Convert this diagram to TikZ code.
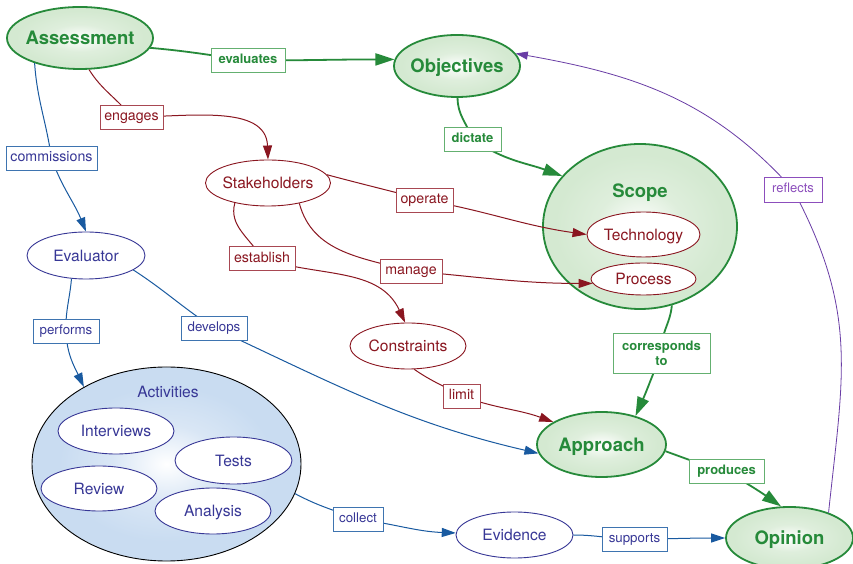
\documentclass[tikz,border=0pt]{standalone}
\usepackage{fontspec}
\setmainfont{TeX Gyre Heros}
\usetikzlibrary{shapes.geometric,arrows.meta}

\definecolor{cgreen}{RGB}{38,138,58}
\definecolor{cgreenlbl}{RGB}{100,176,112}
\definecolor{cgreenfill}{RGB}{212,233,209}
\definecolor{cred}{RGB}{138,22,32}
\definecolor{credlbl}{RGB}{168,72,82}
\definecolor{cindigo}{RGB}{55,55,150}
\definecolor{cblue}{RGB}{25,90,160}
\definecolor{cbluelbl}{RGB}{62,116,176}
\definecolor{cpurple}{RGB}{105,60,165}
\definecolor{cpurplelbl}{RGB}{140,78,188}
\definecolor{cactfill}{RGB}{201,220,241}

% soft white glow in the middle of filled ellipses
\pgfdeclareradialshading{greenglow}{\pgfpoint{0bp}{0bp}}{%
  color(0bp)=(white); color(11bp)=(cgreenfill!75!white);
  color(22bp)=(cgreenfill); color(50bp)=(cgreenfill)}
\pgfdeclareradialshading{blueglow}{\pgfpoint{0bp}{0bp}}{%
  color(0bp)=(white); color(10bp)=(cactfill!70!white);
  color(20bp)=(cactfill); color(50bp)=(cactfill)}

\pgfdeclarelayer{fg}
\pgfsetlayers{main,fg}

\tikzset{
  keytext/.style={font=\fontsize{18.5}{20}\selectfont\bfseries, text=cgreen,
    inner sep=0pt, text height=13.3pt, text depth=0pt},
  keynode/.style={ellipse, draw=cgreen, line width=1.8pt, shade, shading=greenglow,
    inner sep=0pt},
  rtext/.style={font=\fontsize{15.6}{18}\selectfont, text=cred,
    inner sep=0pt, text height=11.2pt, text depth=0pt},
  rnode/.style={ellipse, draw=cred, line width=0.9pt, fill=white, inner sep=0pt},
  itext/.style={font=\fontsize{15.6}{18}\selectfont, text=cindigo,
    inner sep=0pt, text height=11.2pt, text depth=0pt},
  inode/.style={ellipse, draw=cindigo, line width=0.9pt, fill=white, inner sep=0pt},
  actnode/.style={ellipse, draw=black, line width=0.9pt, shade, shading=blueglow,
    inner sep=0pt},
  lblbase/.style={rectangle, fill=white, line width=0.9pt, inner xsep=1pt,
    inner ysep=0pt, minimum height=24pt},
  glabel/.style={lblbase, draw=cgreenlbl, text=cgreen,
    font=\fontsize{13}{15}\selectfont\bfseries, text height=9.4pt, text depth=2.8pt},
  rlabel/.style={lblbase, draw=credlbl, text=cred,
    font=\fontsize{14.2}{16}\selectfont, text height=10.2pt, text depth=3pt},
  blabel/.style={lblbase, draw=cbluelbl, text=cindigo,
    font=\fontsize{13.3}{15}\selectfont, text height=9.6pt, text depth=2.8pt},
  plabel/.style={lblbase, draw=cpurplelbl, text=cpurplelbl,
    font=\fontsize{13}{15}\selectfont, text height=9.4pt, text depth=2.8pt},
  gedge/.style={draw=cgreen, line width=1.8pt, -{Triangle[length=19pt,width=12pt]}},
  redge/.style={draw=cred, line width=1pt, -{Triangle[length=14pt,width=9pt]}},
  bedge/.style={draw=cblue, line width=1pt, -{Triangle[length=14pt,width=9pt]}},
  pedge/.style={draw=cpurple, line width=0.8pt, -{Triangle[length=12pt,width=8pt]}},
}

\begin{document}
\begin{tikzpicture}[x=1pt,y=1pt]
\useasboundingbox (0,0) rectangle (853,564);
\fill[white] (0,0) rectangle (853,564);

% key concepts
\node[keynode, minimum width=146pt, minimum height=62pt,
  label={[keytext]center:Assessment}] (assess) at (80,526) {};
\node[keynode, minimum width=126pt, minimum height=62pt,
  label={[keytext]center:Objectives}] (obj) at (457,498) {};
\node[keynode, minimum width=194pt, minimum height=165pt] (scope) at (640,337.5) {};
\node[keytext] (scopetitle) at (640,373.5) {Scope};
\node[keynode, minimum width=129pt, minimum height=65pt,
  label={[keytext]center:Approach}] (appr) at (601.5,119.5) {};
\node[keynode, minimum width=127pt, minimum height=62pt,
  label={[keytext]center:Opinion}] (opin) at (789.5,26) {};

% stakeholder side
\node[rnode, minimum width=125pt, minimum height=46pt,
  label={[rtext]center:Stakeholders}] (stake) at (268,381) {};
\node[rnode, minimum width=113pt, minimum height=45pt,
  label={[rtext]center:Technology}] (tech) at (643.5,329.5) {};
\node[rnode, minimum width=105pt, minimum height=32pt,
  label={[rtext]center:Process}] (proc) at (643.5,285) {};
\node[rnode, minimum width=116pt, minimum height=46pt,
  label={[rtext]center:Constraints}] (constr) at (408,218) {};

% evaluator side
\node[inode, minimum width=118pt, minimum height=47pt,
  label={[itext]center:Evaluator}] (eval) at (86,308.5) {};
\node[actnode, minimum width=269pt, minimum height=194pt] (act) at (166.5,100) {};
\node[itext] (acttitle) at (168,172) {Activities};
\node[inode, minimum width=116pt, minimum height=46pt,
  label={[itext]center:Interviews}] (interv) at (116,133) {};
\node[inode, minimum width=117pt, minimum height=47pt,
  label={[itext]center:Tests}] (tests) at (233.5,103.5) {};
\node[inode, minimum width=116pt, minimum height=45pt,
  label={[itext]center:Review}] (review) at (99,75.5) {};
\node[inode, minimum width=116pt, minimum height=46pt,
  label={[itext]center:Analysis}] (analysis) at (213,53) {};
\node[inode, minimum width=117pt, minimum height=46pt,
  label={[itext]center:Evidence}] (evid) at (514.5,29) {};

% link phrases, kept above the connectors
\begin{pgfonlayer}{fg}
\node[glabel, minimum width=74pt] (evals) at (248,503.5) {evaluates};
\node[rlabel, minimum width=63pt] (eng) at (131.5,447) {engages};
\node[blabel, minimum width=91pt, font=\fontsize{14.2}{16}\selectfont] (comm) at (51.5,405.5) {commissions};
\node[glabel, minimum width=57pt] (dict) at (472.5,425) {dictate};
\node[rlabel, minimum width=57pt] (oper) at (424.5,364) {operate};
\node[rlabel, minimum width=62pt] (mng) at (411,293) {manage};
\node[rlabel, minimum width=66pt] (est) at (262,305.5) {establish};
\node[rlabel, minimum width=37pt] (lim) at (461.5,168) {limit};
\node[rectangle, fill=white, draw=cgreenlbl, line width=0.9pt, inner sep=0pt,
  minimum width=97pt, minimum height=40pt, align=center, text=cgreen,
  font=\fontsize{13}{15}\selectfont\bfseries] (corr) at (661.5,211) {corresponds\\to};
\node[glabel, minimum width=75pt] (prod) at (726.5,92.5) {produces};
\node[blabel, minimum width=66pt] (perf) at (66,232.5) {performs};
\node[blabel, minimum width=66pt] (dev) at (214,236) {develops};
\node[blabel, minimum width=50pt] (coll) at (358,45) {collect};
\node[blabel, minimum width=65pt] (supp) at (634.5,25) {supports};
\node[plabel, minimum width=58pt, minimum height=25pt] (refl) at (793,374.5) {reflects};
\end{pgfonlayer}

% connectors
\draw[gedge] (assess.-8) to[out=-5,in=172] (evals.center) to[out=0,in=180] (obj.174);
\draw[redge] (assess.-74) to[out=-58,in=128] (eng.center) to[out=0,in=92] (stake.north);
\draw[bedge] (assess.209) to[out=-86,in=98] (comm.center) to[out=-70,in=112] (eval.north);
\draw[gedge] (obj.-89) to[out=-90,in=110] (dict.center) to[out=-35,in=160] (scope.147);
\draw[redge] (stake.8) to[out=-15,in=165] (oper.center) to[out=-10,in=172] (tech.west);
\draw[redge] (stake.-33) to[out=-75,in=165] (mng.center) to[out=-5,in=180] (proc.185);
\draw[redge] (stake.211) to[out=-105,in=120] (est.center) to[out=-18,in=115] (constr.97);
\draw[redge] (constr.-75) to[out=-35,in=150] (lim.center) to[out=-20,in=160] (appr.155);
\draw[gedge] (scope.-68) to[out=-95,in=95] (corr.center) to[out=-112,in=66] (appr.40);
\draw[gedge] (appr.-6) to[out=-20,in=165] (prod.center) to[out=-30,in=145] (opin.105);
\draw[bedge] (eval.-122) to[out=-95,in=92] (perf.center) to[out=-88,in=115] (act.137);
\draw[bedge] (eval.-17) to[out=-33,in=147] (dev.center) to[out=-25,in=167] (appr.188);
\draw[bedge] (act.-13.5) to[out=-28,in=160] (coll.center) to[out=-8,in=178] (evid.178);
\draw[bedge] (evid.0) to[out=0,in=180] (supp.center) to[out=0,in=180] (opin.west);
\draw[pedge] (opin.33) to[out=84,in=-62,looseness=1.1] (refl.center) to[out=132,in=-10] (obj.12);

\end{tikzpicture}
\end{document}
